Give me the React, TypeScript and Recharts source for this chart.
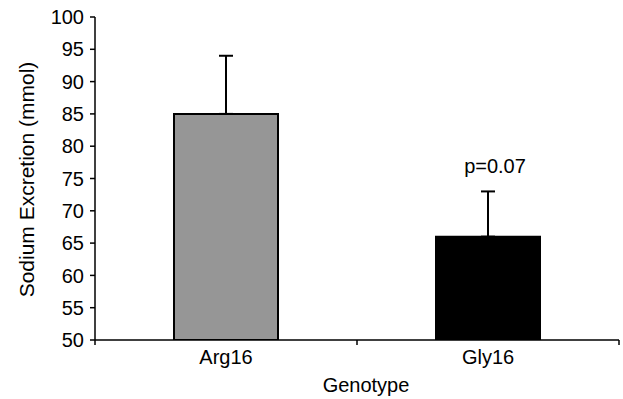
import { BarChart, Bar, XAxis, YAxis, ErrorBar, Cell, ReferenceDot, Label } from "recharts";

const genotypes = ["Arg16", "Gly16"];
const excretion = [85, 66];
const errorUp = [9, 7];
const barColors = ["#969696", "#000000"];
const yTicks = [50, 55, 60, 65, 70, 75, 80, 85, 90, 95, 100];
const pNote = "p=0.07";

const font = "'Liberation Sans', Arial, Helvetica, sans-serif";

const data = genotypes.map((g, i) => ({
  name: g,
  value: excretion[i],
  err: [0, errorUp[i]],
}));

// Excel-style: tick marks sit between categories, labels in the middle
function CategoryTick(props: any) {
  const { x, y, payload, index, visibleTicksCount } = props;
  const half = payload.offset ?? 0;
  const last = index === visibleTicksCount - 1;
  return (
    <g>
      <line x1={x - half} x2={x - half} y1={y} y2={y + 5} stroke="#000" strokeWidth={1.5} />
      {last && <line x1={x + half} x2={x + half} y1={y} y2={y + 5} stroke="#000" strokeWidth={1.5} />}
      <text x={x} y={y} dy={24} textAnchor="middle" fill="#000" fontSize={20} fontFamily={font}>
        {payload.value}
      </text>
    </g>
  );
}

function YTitle(props: any) {
  const vb = props.viewBox;
  const cx = vb.x + 34;
  const cy = vb.y + vb.height / 2 + 1;
  return (
    <text
      x={cx}
      y={cy}
      transform={`rotate(-90 ${cx} ${cy})`}
      textAnchor="middle"
      fill="#000"
      fontSize={21}
      fontFamily={font}
    >
      Sodium Excretion (mmol)
    </text>
  );
}

export default function App() {
  return (
    <div style={{ position: "absolute", left: 0, top: 0, background: "#fff" }}>
      <BarChart
        width={623}
        height={399}
        data={data}
        margin={{ top: 17, right: 4, bottom: 0, left: 0 }}
      >
        <XAxis
          dataKey="name"
          height={59}
          tickLine={false}
          tickSize={0}
          tickMargin={0}
          axisLine={{ stroke: "#000", strokeWidth: 1.5 }}
          tick={<CategoryTick />}
          interval={0}
        >
          <Label
            value="Genotype"
            position="insideBottom"
            offset={7}
            dx={9}
            fill="#000"
            fontSize={20}
            fontFamily={font}
          />
        </XAxis>
        <YAxis
          width={95}
          domain={[50, 100]}
          ticks={yTicks}
          interval={0}
          allowDataOverflow
          tickSize={5}
          tickMargin={6}
          tickLine={{ stroke: "#000", strokeWidth: 1.5 }}
          axisLine={{ stroke: "#000", strokeWidth: 1.5 }}
          tick={{ fill: "#000", fontSize: 20, fontFamily: font }}
        >
          <Label content={<YTitle />} />
        </YAxis>
        <Bar dataKey="value" barSize={104} stroke="#000" strokeWidth={2} isAnimationActive={false}>
          {data.map((d, i) => (
            <Cell key={d.name} fill={barColors[i]} />
          ))}
          <ErrorBar dataKey="err" direction="y" width={7} stroke="#000" strokeWidth={2} isAnimationActive={false} />
        </Bar>
        <ReferenceDot
          x={genotypes[1]}
          y={excretion[1] + errorUp[1]}
          r={0}
          fill="none"
          stroke="none"
          label={{ value: pNote, position: "top", offset: 18, dx: 7, fill: "#000", fontSize: 20, fontFamily: font }}
        />
      </BarChart>
    </div>
  );
}
